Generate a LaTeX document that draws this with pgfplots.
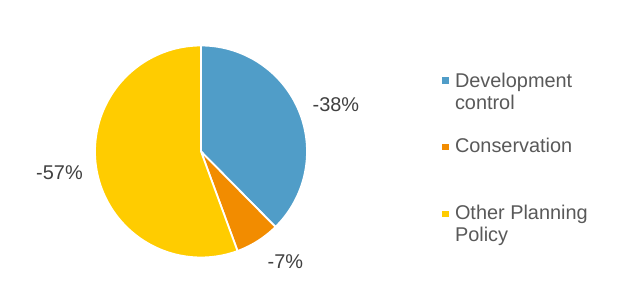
\documentclass[border=0pt]{standalone}
\usepackage{pgfplots}
\pgfplotsset{compat=1.18}
\usepackage{fontspec}
\setmainfont{Liberation Sans}
\definecolor{cblue}{HTML}{509DC8}
\definecolor{corange}{HTML}{F28C00}
\definecolor{cyellow}{HTML}{FFCC00}
\definecolor{labgray}{HTML}{404040}
\definecolor{leggray}{HTML}{595959}
% shares of the pie (per cent)
\def\vA{37.6}
\def\vB{6.8}
\def\vC{55.6}
\tikzset{lab/.style={inner sep=0pt, outer sep=0pt, text=labgray, font=\fontsize{19.9bp}{22bp}\selectfont},
         leg/.style={inner sep=0pt, outer sep=0pt, text=leggray, font=\fontsize{19.9bp}{22.2bp}\selectfont}}
\begin{document}
\begin{tikzpicture}
\useasboundingbox (0,0) rectangle (635bp,304bp);
\pgfmathsetmacro{\aA}{3.6*\vA}
\pgfmathsetmacro{\aB}{3.6*(\vA+\vB)}
\begin{axis}[
  at={(0,0)}, anchor=origin,
  scale only axis, width=635bp, height=304bp,
  xmin=0, xmax=635, ymin=0, ymax=304,
  hide axis, clip=false,
]
\addplot[fill=cblue, draw=white, line width=1.8bp, domain=0:\aA, samples=90, variable=\t]
  ({201+106*sin(t)},{152.5+106*cos(t)}) -- (axis cs:201,152.5) -- cycle;
\addplot[fill=corange, draw=white, line width=1.8bp, domain=\aA:\aB, samples=30, variable=\t]
  ({201+106*sin(t)},{152.5+106*cos(t)}) -- (axis cs:201,152.5) -- cycle;
\addplot[fill=cyellow, draw=white, line width=1.8bp, domain=\aB:360, samples=120, variable=\t]
  ({201+106*sin(t)},{152.5+106*cos(t)}) -- (axis cs:201,152.5) -- cycle;
% data labels
\node[lab, anchor=base west] at (axis cs:312.7,192.3) {-38\%};
\node[lab, anchor=base west] at (axis cs:267.7,35.7) {-7\%};
\node[lab, anchor=base east] at (axis cs:82.7,124) {-57\%};
% legend
\fill[cblue] (axis cs:442.3,220.1) rectangle (axis cs:448.7,226.5);
\fill[corange] (axis cs:442.3,153.5) rectangle (axis cs:448.7,159.9);
\fill[cyellow] (axis cs:442.3,86.8) rectangle (axis cs:448.7,93.2);
\node[leg, anchor=base west] at (axis cs:455,216.7)
  {\begin{tabular}[t]{@{}l@{}}Development\\control\end{tabular}};
\node[leg, anchor=base west] at (axis cs:455,151.7) {Conservation};
\node[leg, anchor=base west] at (axis cs:455,84.7)
  {\begin{tabular}[t]{@{}l@{}}Other Planning\\Policy\end{tabular}};
\end{axis}
\end{tikzpicture}
\end{document}
